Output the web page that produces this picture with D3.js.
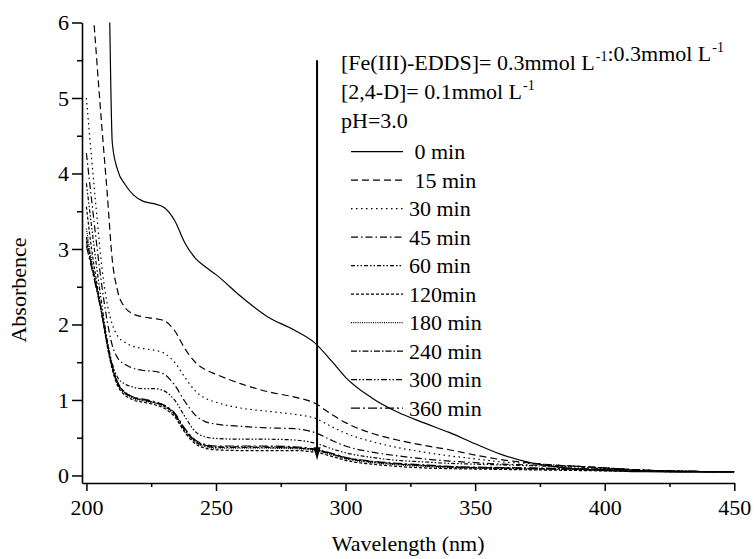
<!DOCTYPE html>
<html>
<head>
<meta charset="utf-8">
<script src="https://cdn.jsdelivr.net/npm/d3@7"></script>
<style>
  html, body { margin: 0; padding: 0; background: #fff; }
  svg, svg text { font-family: "Liberation Serif", "Times New Roman", Times, "DejaVu Serif", serif !important; fill: #000; }
</style>
</head>
<body>
<script>
// ---------------- data ----------------
const wavelengths = [200, 202, 204, 206, 208, 210, 212, 215, 218, 222, 226, 230, 234, 238, 242, 246, 250, 260, 270, 280, 288, 295, 300, 310, 320, 330, 340, 350, 360, 370, 380, 390, 400, 415, 430, 450];

const seriesNames = ["0 min", "15 min", "30 min", "45 min", "60 min", "120min", "180 min", "240 min", "300 min", "360 min"];

const abs0   = [9, 9, 9, 9, 8, 4.4, 4.05, 3.85, 3.72, 3.63, 3.6, 3.55, 3.38, 3.08, 2.88, 2.76, 2.66, 2.36, 2.1, 1.93, 1.76, 1.5, 1.3, 1.03, 0.84, 0.7, 0.57, 0.42, 0.28, 0.18, 0.12, 0.085, 0.065, 0.05, 0.045, 0.045];
const abs15  = [8, 6.5, 5.5, 4.6, 3.75, 2.85, 2.45, 2.22, 2.14, 2.1, 2.08, 2.05, 1.92, 1.68, 1.5, 1.4, 1.34, 1.21, 1.11, 1.04, 0.96, 0.8, 0.7, 0.56, 0.47, 0.4, 0.34, 0.27, 0.21, 0.17, 0.14, 0.12, 0.1, 0.07, 0.055, 0.05];
const abs30  = [5.0, 4.2, 3.45, 2.75, 2.28, 2.0, 1.85, 1.76, 1.71, 1.68, 1.66, 1.62, 1.5, 1.3, 1.12, 1.02, 0.97, 0.89, 0.85, 0.81, 0.76, 0.64, 0.56, 0.45, 0.37, 0.31, 0.26, 0.22, 0.18, 0.16, 0.14, 0.12, 0.1, 0.07, 0.055, 0.05];
const abs45  = [4.27, 3.65, 3.05, 2.5, 2.05, 1.72, 1.56, 1.47, 1.42, 1.39, 1.38, 1.34, 1.2, 0.98, 0.8, 0.71, 0.68, 0.65, 0.63, 0.62, 0.57, 0.46, 0.39, 0.31, 0.26, 0.22, 0.19, 0.17, 0.15, 0.14, 0.13, 0.12, 0.1, 0.07, 0.055, 0.05];
const abs60  = [3.87, 3.3, 2.75, 2.25, 1.8, 1.48, 1.3, 1.21, 1.17, 1.15, 1.15, 1.12, 1.0, 0.78, 0.58, 0.51, 0.49, 0.48, 0.48, 0.47, 0.43, 0.35, 0.3, 0.24, 0.2, 0.18, 0.16, 0.15, 0.14, 0.13, 0.12, 0.11, 0.09, 0.07, 0.055, 0.05];
const abs120 = [3.56, 3.0, 2.55, 2.12, 1.72, 1.4, 1.19, 1.06, 1.0, 0.97, 0.94, 0.89, 0.78, 0.57, 0.42, 0.36, 0.34, 0.33, 0.33, 0.33, 0.31, 0.25, 0.2, 0.15, 0.12, 0.1, 0.09, 0.085, 0.08, 0.075, 0.07, 0.065, 0.06, 0.055, 0.05, 0.05];
const abs180 = [3.27, 2.85, 2.5, 2.13, 1.74, 1.42, 1.21, 1.08, 1.02, 0.99, 0.96, 0.91, 0.8, 0.59, 0.44, 0.38, 0.36, 0.36, 0.36, 0.355, 0.33, 0.27, 0.22, 0.17, 0.14, 0.12, 0.1, 0.095, 0.09, 0.085, 0.08, 0.075, 0.07, 0.06, 0.05, 0.05];
const abs240 = [3.16, 2.8, 2.48, 2.14, 1.75, 1.43, 1.22, 1.09, 1.03, 1.0, 0.97, 0.92, 0.81, 0.6, 0.45, 0.39, 0.37, 0.37, 0.37, 0.365, 0.34, 0.28, 0.23, 0.18, 0.15, 0.13, 0.11, 0.1, 0.095, 0.09, 0.085, 0.08, 0.075, 0.065, 0.055, 0.05];
const abs300 = [3.1, 2.78, 2.47, 2.14, 1.76, 1.44, 1.23, 1.1, 1.04, 1.0, 0.97, 0.93, 0.82, 0.61, 0.46, 0.4, 0.38, 0.38, 0.38, 0.37, 0.345, 0.285, 0.235, 0.185, 0.155, 0.135, 0.115, 0.105, 0.1, 0.095, 0.09, 0.085, 0.08, 0.065, 0.055, 0.05];
const abs360 = [3.04, 2.75, 2.45, 2.13, 1.76, 1.45, 1.24, 1.1, 1.04, 1.01, 0.98, 0.93, 0.83, 0.62, 0.47, 0.41, 0.39, 0.39, 0.39, 0.38, 0.35, 0.29, 0.24, 0.19, 0.16, 0.14, 0.12, 0.11, 0.105, 0.1, 0.095, 0.09, 0.08, 0.07, 0.055, 0.05];

const seriesValues = [abs0, abs15, abs30, abs45, abs60, abs120, abs180, abs240, abs300, abs360];

const xTicksMajor = [200, 250, 300, 350, 400, 450];
const xTicksMinor = [225, 275, 325, 375, 425];
const yTicksMajor = [0, 1, 2, 3, 4, 5, 6];
const yTicksMinor = [0.5, 1.5, 2.5, 3.5, 4.5, 5.5];

const arrowWavelength = 289;
const arrowFrom = 5.5;
const arrowTo = 0.2;

const xTitle = "Wavelength (nm)";
const yTitle = "Absorbence";

// ---------------- styles ----------------
const FONT = "'Liberation Serif', 'Times New Roman', Times, 'DejaVu Serif', serif";
const dashes = [null, "7,4", "1.5,3.5", "7,3,1.5,3", "4,2,1.5,2,1.5,2", "3,2", "1,1.2", "6,2,1.5,2", "6,2,1.5,2,1.5,2", "9,3,2,3"];
const legendLabelText = [" 0 min", " 15 min", "30 min", "45 min", "60 min", "120min", "180 min", "240 min", "300 min", "360 min"];

// ---------------- chart ----------------
const W = 754, H = 559;
const svg = d3.select("body").append("svg").attr("width", W).attr("height", H)
  .attr("font-family", FONT).style("font-family", FONT);

const x = d3.scaleLinear().domain([198.3, 450]).range([82, 734.3]);
const y = d3.scaleLinear().domain([-0.1, 6]).range([483, 22.5]);

svg.append("defs").append("clipPath").attr("id", "plotclip")
  .append("rect").attr("x", 82).attr("y", 22.5).attr("width", 734.3 - 82).attr("height", 483 - 22.5);

const line = d3.line()
  .x(d => x(d[0]))
  .y(d => y(d[1]))
  .curve(d3.curveMonotoneX);

const plot = svg.append("g").attr("clip-path", "url(#plotclip)");
seriesValues.forEach((vals, i) => {
  const pts = wavelengths.map((w, j) => [w, vals[j]]);
  plot.append("path")
    .attr("d", line(pts))
    .attr("fill", "none")
    .attr("stroke", "#000")
    .attr("stroke-width", 1.2)
    .attr("stroke-dasharray", dashes[i]);
});

// arrow
svg.append("line")
  .attr("x1", x(arrowWavelength)).attr("x2", x(arrowWavelength))
  .attr("y1", y(arrowFrom)).attr("y2", y(arrowTo) - 8)
  .attr("stroke", "#000").attr("stroke-width", 2);
{
  const ax = x(arrowWavelength), ay = y(arrowTo);
  svg.append("path")
    .attr("d", `M${ax},${ay} L${ax - 3.5},${ay - 13} L${ax + 3.5},${ay - 13} Z`)
    .attr("fill", "#000");
}

// axes
const fontSize = 22;
const xAxisG = svg.append("g").attr("transform", "translate(0,483)");
xAxisG.call(d3.axisBottom(x).tickValues(xTicksMajor).tickSize(8).tickSizeOuter(0).tickFormat(d3.format("d")));
const xMinorG = svg.append("g").attr("transform", "translate(0,483)");
xMinorG.call(d3.axisBottom(x).tickValues(xTicksMinor).tickSize(4).tickSizeOuter(0).tickFormat(""));
xMinorG.select(".domain").remove();

const yAxisG = svg.append("g").attr("transform", "translate(82,0)");
yAxisG.call(d3.axisLeft(y).tickValues(yTicksMajor).tickSize(10).tickSizeOuter(0).tickFormat(d3.format("d")));
const yMinorG = svg.append("g").attr("transform", "translate(82,0)");
yMinorG.call(d3.axisLeft(y).tickValues(yTicksMinor).tickSize(5).tickSizeOuter(0).tickFormat(""));
yMinorG.select(".domain").remove();

[xAxisG, xMinorG, yAxisG, yMinorG].forEach(g => {
  g.attr("font-family", FONT).attr("font-size", fontSize);
  g.selectAll(".domain").attr("stroke", "#000").attr("stroke-width", 1.6);
  g.selectAll(".tick line").attr("stroke", "#000").attr("stroke-width", 1.5);
  g.selectAll("text").attr("font-family", FONT).attr("font-size", fontSize).attr("fill", "#000");
});
xAxisG.selectAll(".tick text").attr("y", 31.5).attr("dy", 0);
yAxisG.selectAll(".tick text").attr("x", -13).attr("dy", "0.33em");

// axis titles
svg.append("text")
  .attr("x", (82 + 734.3) / 2).attr("y", 551)
  .attr("text-anchor", "middle").attr("font-size", fontSize)
  .text(xTitle);
svg.append("text")
  .attr("transform", "translate(26,290) rotate(-90)")
  .attr("text-anchor", "middle").attr("font-size", fontSize)
  .text(yTitle);

// header annotations
const hx = 341;
function supText(yPos, parts) {
  const t = svg.append("text").attr("x", hx).attr("y", yPos).attr("font-size", fontSize);
  parts.forEach(p => {
    if (p.sup) {
      t.append("tspan").attr("font-size", 14).attr("dx", 1).attr("dy", -9).text(p.t);
      t.append("tspan").attr("dy", 9).text("");
    } else {
      t.append("tspan").text(p.t);
    }
  });
}
supText(70, [{t: "[Fe(III)-EDDS]= 0.3mmol L"}, {t: "-1", sup: true}, {t: ":0.3mmol L"}, {t: "-1", sup: true}]);
supText(99, [{t: "[2,4-D]= 0.1mmol L"}, {t: "-1", sup: true}]);
supText(128, [{t: "pH=3.0"}]);

// legend
const legY0 = 151.7, legStep = 28.5;
const leg = svg.append("g");
seriesNames.forEach((name, i) => {
  const ly = legY0 + i * legStep;
  leg.append("line")
    .attr("x1", 351).attr("x2", 403).attr("y1", ly).attr("y2", ly)
    .attr("stroke", "#000").attr("stroke-width", 1.2)
    .attr("stroke-dasharray", dashes[i]);
  leg.append("text")
    .attr("x", 409).attr("y", ly + 7.5)
    .attr("font-size", fontSize)
    .style("white-space", "pre")
    .text(legendLabelText[i]);
});
</script>
</body>
</html>
